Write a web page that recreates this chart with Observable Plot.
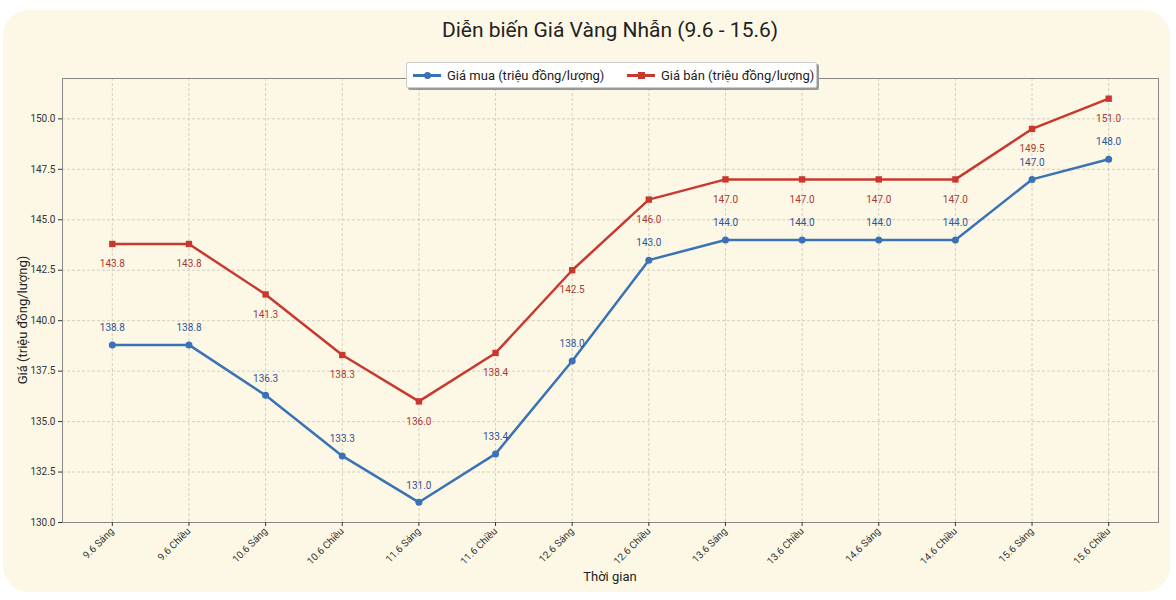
<!DOCTYPE html>
<html>
<head>
<meta charset="utf-8">
<script src="https://cdn.jsdelivr.net/npm/d3@7"></script>
<script src="https://cdn.jsdelivr.net/npm/@observablehq/plot@0.6"></script>
<style>
  html, body { margin: 0; padding: 0; background: #ffffff; font-family: Roboto, "Noto Sans", sans-serif; }
  #wrap { position: relative; width: 1176px; height: 600px; overflow: hidden; }
  #card { position: absolute; left: 3px; top: 10px; width: 1167px; height: 582px; border-radius: 26px; background: #fdf8e6; }
  #title { position: absolute; left: 0; width: 1220px; top: 18px; text-align: center; font-size: 21px; color: #222; }
  #chart { position: absolute; left: 0; top: 0; }
  #legend { position: absolute; left: 406px; top: 62px; width: 409px; height: 24px; background: #fff; border: 1px solid #ccc; border-radius: 2px; box-shadow: 2px 2px 0 #999; font-size: 13px; color: #222; white-space: nowrap; }
  .item { position: absolute; top: 0; height: 24px; display: flex; align-items: center; white-space: nowrap; }
  .sw { position: relative; width: 28px; height: 10px; margin-right: 6px; flex: none; }
  .sw .ln { position: absolute; left: 0; top: 4px; width: 28px; height: 2.5px; }
  .sw .mk { position: absolute; left: 10.5px; top: 1.5px; width: 7px; height: 7px; }
  #ylab { position: absolute; left: 22px; top: 320px; transform: translate(-50%, -50%) rotate(-90deg); font-size: 13px; color: #222; white-space: nowrap; }
  #xlab { position: absolute; left: 0; width: 1220px; top: 569px; text-align: center; font-size: 13px; color: #222; }
</style>
</head>
<body>
<div id="wrap">
  <div id="card"></div>
  <div id="chart"></div>
  <div id="title">Diễn biến Giá Vàng Nhẫn (9.6 - 15.6)</div>
  <div id="ylab">Giá (triệu đồng/lượng)</div>
  <div id="xlab">Thời gian</div>
  <div id="legend">
    <div class="item" style="left:6px"><div class="sw"><div class="ln" style="background:#3a72b5"></div><div class="mk" style="background:#3a72b5;border-radius:50%"></div></div>Giá mua (triệu đồng/lượng)</div>
    <div class="item" style="left:220px"><div class="sw"><div class="ln" style="background:#c9382f"></div><div class="mk" style="background:#c9382f"></div></div>Giá bán (triệu đồng/lượng)</div>
  </div>
</div>
<script>
const periods = ["9.6 Sáng","9.6 Chiều","10.6 Sáng","10.6 Chiều","11.6 Sáng","11.6 Chiều","12.6 Sáng","12.6 Chiều","13.6 Sáng","13.6 Chiều","14.6 Sáng","14.6 Chiều","15.6 Sáng","15.6 Chiều"];
const buyPrices = [138.8,138.8,136.3,133.3,131.0,133.4,138.0,143.0,144.0,144.0,144.0,144.0,147.0,148.0];
const sellPrices = [143.8,143.8,141.3,138.3,136.0,138.4,142.5,146.0,147.0,147.0,147.0,147.0,149.5,151.0];
const yTicks = [130,132.5,135,137.5,140,142.5,145,147.5,150];

const buy = periods.map((p,i) => ({p, v: buyPrices[i]}));
const sell = periods.map((p,i) => ({p, v: sellPrices[i]}));

const blue = "#3a72b5", red = "#c9382f";

const chart = Plot.plot({
  width: 1176,
  height: 600,
  marginLeft: 62,
  marginRight: 18,
  marginTop: 78,
  marginBottom: 78,
  style: {background: "transparent", fontFamily: "Roboto, 'Noto Sans', sans-serif", fontSize: "10px", color: "#333"},
  x: {type: "point", domain: periods, padding: 0.65, round: false},
  y: {domain: [130, 152]},
  marks: [
    Plot.gridX(periods, {stroke: "#c9c5b5", strokeOpacity: 1, strokeDasharray: "3,2", strokeWidth: 0.8}),
    Plot.gridY(yTicks, {stroke: "#c9c5b5", strokeOpacity: 1, strokeDasharray: "3,2", strokeWidth: 0.8}),
    Plot.frame({stroke: "#888", strokeWidth: 1}),
    Plot.axisY(yTicks, {tickFormat: d => d.toFixed(1), tickSize: 4, tickPadding: 3, label: null, fontSize: 10, color: "#333"}),
    Plot.axisX({tickRotate: -45, tickSize: 4, tickPadding: 3, label: null, fontSize: 10, color: "#333"}),
    Plot.line(buy, {x: "p", y: "v", stroke: blue, strokeWidth: 2.5}),
    Plot.line(sell, {x: "p", y: "v", stroke: red, strokeWidth: 2.5}),
    Plot.dot(buy, {x: "p", y: "v", fill: blue, r: 3.5, symbol: "circle"}),
    Plot.dot(sell, {x: "p", y: "v", fill: red, r: 3.6, symbol: "square"}),
    Plot.text(buy, {x: "p", y: "v", text: d => d.v.toFixed(1), dy: -17, fill: "#2f5496", fontSize: 10}),
    Plot.text(sell, {x: "p", y: "v", text: d => d.v.toFixed(1), dy: 20, fill: "#a83a33", fontSize: 10})
  ]
});
document.getElementById("chart").appendChild(chart);
</script>
</body>
</html>
